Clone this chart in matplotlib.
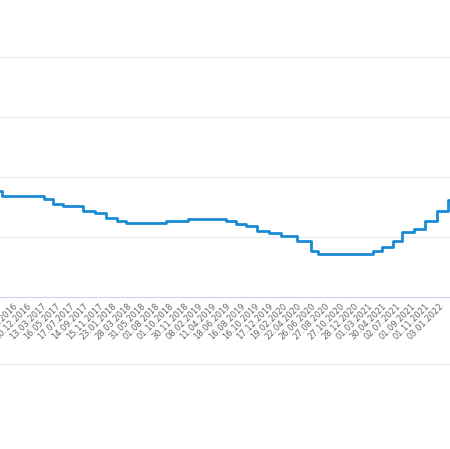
import matplotlib
matplotlib.use('Agg')
import matplotlib.pyplot as plt
from matplotlib.lines import Line2D

# tick labels (one every ~2 months)
tick_labels = ['..2016', '20.12.2016', '13.03.2017', '16.05.2017', '17.07.2017', '14.09.2017',
               '15.11.2017', '23.01.2018', '28.03.2018', '31.05.2018', '01.08.2018', '01.10.2018',
               '30.11.2018', '08.02.2019', '11.04.2019', '18.06.2019', '16.08.2019', '16.10.2019',
               '17.12.2019', '19.02.2020', '22.04.2020', '26.06.2020', '27.08.2020', '27.10.2020',
               '28.12.2020', '01.03.2021', '30.04.2021', '02.07.2021', '01.09.2021', '01.11.2021',
               '03.01.2022', '04.03.2022', '11.05.2022']

# step start positions (in tick units) and levels
step_x = [-0.92, -0.77, 2.18, 2.82, 3.52, 4.93, 5.77, 6.55, 7.32, 7.96, 10.77, 12.32, 15.0,
          15.70, 16.41, 17.18, 18.03, 18.87, 20.0, 20.99, 21.48, 25.35, 25.99, 26.76, 27.39,
          28.24, 29.01, 29.86, 30.63, 31.0]
step_y = [1.77, 1.68, 1.63, 1.55, 1.52, 1.43, 1.40, 1.32, 1.27, 1.23, 1.27, 1.30, 1.27,
          1.22, 1.18, 1.10, 1.07, 1.02, 0.93, 0.77, 0.72, 0.77, 0.83, 0.93, 1.08,
          1.13, 1.27, 1.43, 1.62, 1.62]

fig = plt.figure(figsize=(4.5, 4.49), dpi=100)
ax = fig.add_axes([0, 152 / 449, 1, 297 / 449])
ax.plot(step_x, step_y, drawstyle='steps-post', color='#1a8ad4', lw=2)

ax.set_yticks([1, 2, 3, 4])
ax.yaxis.grid(True, color='#eeeeee', lw=1)
ax.tick_params(axis='y', left=False, labelleft=False)
ax.set_xticks(range(len(tick_labels)))
ax.set_xticklabels(tick_labels, rotation=45, ha='right', rotation_mode='anchor',
                   fontsize=6, color='#666666')
ax.tick_params(axis='x', length=0, pad=3)
ax.set_xlim(-0.92, 30.77)
ax.set_ylim(0, 4.95)
for s in ['top', 'left', 'right']:
    ax.spines[s].set_visible(False)
ax.spines['bottom'].set_color('#ccd6eb')

fig.add_artist(Line2D([0, 1], [1 - 364 / 449] * 2, color='#eeeeee', lw=1))
fig.savefig('out.png', dpi=100)
